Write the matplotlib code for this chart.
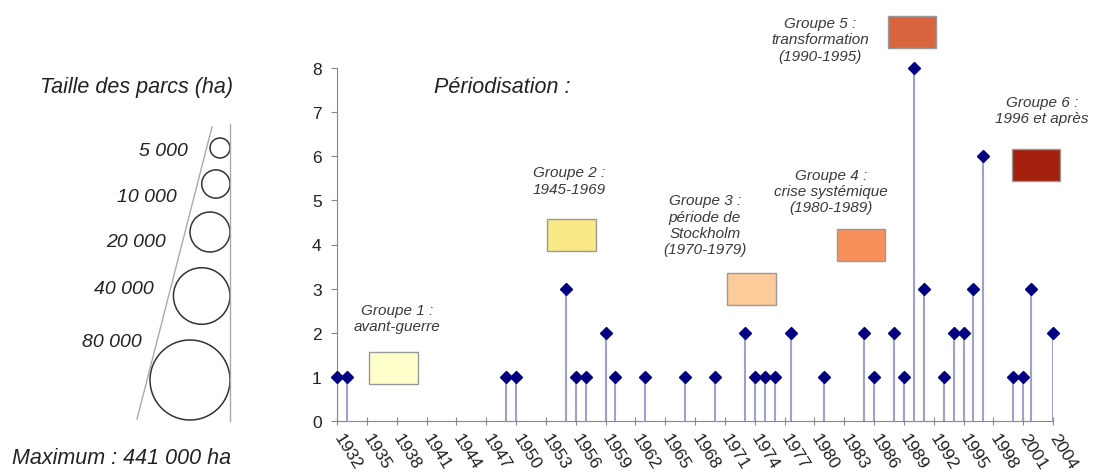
import matplotlib.pyplot as plt
from matplotlib.patches import Rectangle, Circle

plt.rcParams['font.family'] = ['Liberation Sans', 'DejaVu Sans']

# parks created per year
years = [1932, 1933, 1949, 1950, 1955, 1956, 1957, 1959, 1960, 1963, 1967,
         1970, 1973, 1974, 1975, 1976, 1977.7, 1981, 1985, 1986, 1988, 1989,
         1990, 1991, 1993, 1994, 1995, 1996, 1997, 2000, 2001, 2001.8, 2004]
counts = [1, 1, 1, 1, 3, 1, 1, 2, 1, 1, 1,
          1, 2, 1, 1, 1, 2, 1, 2, 1, 2, 1,
          8, 3, 1, 2, 2, 3, 6, 1, 1, 3, 2]

tick_years = list(range(1932, 2005, 3))

# periodisation groups: label, box colour, box corner (year, value), text centre
group_labels = ["Groupe 1 :\navant-guerre",
                "Groupe 2 :\n1945-1969",
                "Groupe 3 :\npériode de\nStockholm\n(1970-1979)",
                "Groupe 4 :\ncrise systémique\n(1980-1989)",
                "Groupe 5 :\ntransformation\n(1990-1995)",
                "Groupe 6 :\n1996 et après"]
group_colors = ["#FFFFCC", "#F9E886", "#FDCA9A", "#F8905C", "#D9653F", "#A3200C"]
box_xy = [(1935.25, 0.84), (1953.15, 3.85), (1971.25, 2.63),
          (1982.25, 3.62), (1987.4, 8.45), (1999.85, 5.43)]
text_xy = [(1938.0, 2.33), (1955.33, 5.45), (1969.0, 4.45),
           (1981.68, 5.21), (1980.57, 8.65), (2002.9, 7.05)]

# size legend (ha)
legend_sizes = [5000, 10000, 20000, 40000, 80000]
legend_labels = ["5 000", "10 000", "20 000", "40 000", "80 000"]

fig = plt.figure(figsize=(10.96, 4.77), dpi=100)

# left legend panel, drawn in pixel units
lax = fig.add_axes([0, 0, 1, 1])
lax.set_xlim(0, 1096)
lax.set_ylim(477, 0)
lax.axis('off')
lax.text(136, 88, "Taille des parcs (ha)", fontsize=15.5, style='italic',
         ha='center', va='center', color='#222222')
lax.plot([230, 230], [125, 422], color='#aaaaaa', lw=1)
lax.plot([212, 137], [128, 420], color='#aaaaaa', lw=1)
centers = [149, 185, 233, 297, 381]
label_pos = [(188, 152), (177, 198), (166, 243), (154, 290), (142, 343)]
for size, cy, lab, (lx, ly) in zip(legend_sizes, centers, legend_labels, label_pos):
    r = 10 * (size / legend_sizes[0]) ** 0.5
    lax.add_patch(Circle((230 - r, cy), r, fill=False, ec='#333333', lw=1.1))
    lax.text(lx, ly, lab, fontsize=14, style='italic', ha='right', va='center',
             color='#222222')
lax.text(122, 459, "Maximum : 441 000 ha", fontsize=15.5, style='italic',
         ha='center', va='center', color='#222222')

# main stem chart
ax = fig.add_axes([337 / 1096, 55 / 477, 716 / 1096, 353 / 477])
ax.vlines(years, 0, counts, color='#a0a0cc', lw=1.5, zorder=2)
ax.plot(years, counts, 'D', color='#000080', ms=6, mec='#000080',
        clip_on=False, zorder=3)
ax.set_xlim(1932, 2004)
ax.set_ylim(0, 8)
ax.set_yticks(range(0, 9))
ax.set_xticks(tick_years)
ax.set_xticklabels([str(y) for y in tick_years], rotation=-58, ha='left',
                   va='center', rotation_mode='anchor')
ax.tick_params(axis='x', direction='inout', length=6, pad=7, labelsize=12.5,
               color='#888888', labelcolor='#222222')
ax.tick_params(axis='y', direction='out', length=4, pad=7, labelsize=12.5,
               color='#888888', labelcolor='#222222')
for side in ['top', 'right']:
    ax.spines[side].set_visible(False)
for side in ['left', 'bottom']:
    ax.spines[side].set_color('#888888')

ax.text(1948.6, 7.57, "Périodisation :", fontsize=15.5, style='italic',
        ha='center', va='center', color='#222222')
for lab, col, (bx, by), (tx, ty) in zip(group_labels, group_colors, box_xy, text_xy):
    ax.add_patch(Rectangle((bx, by), 4.85, 0.73, facecolor=col,
                           edgecolor='#999999', lw=1, clip_on=False, zorder=1))
    ax.text(tx, ty, lab, fontsize=11, style='italic', ha='center', va='center',
            color='#3a3a3a', linespacing=1.2, clip_on=False)

fig.savefig("out.png", dpi=100)
